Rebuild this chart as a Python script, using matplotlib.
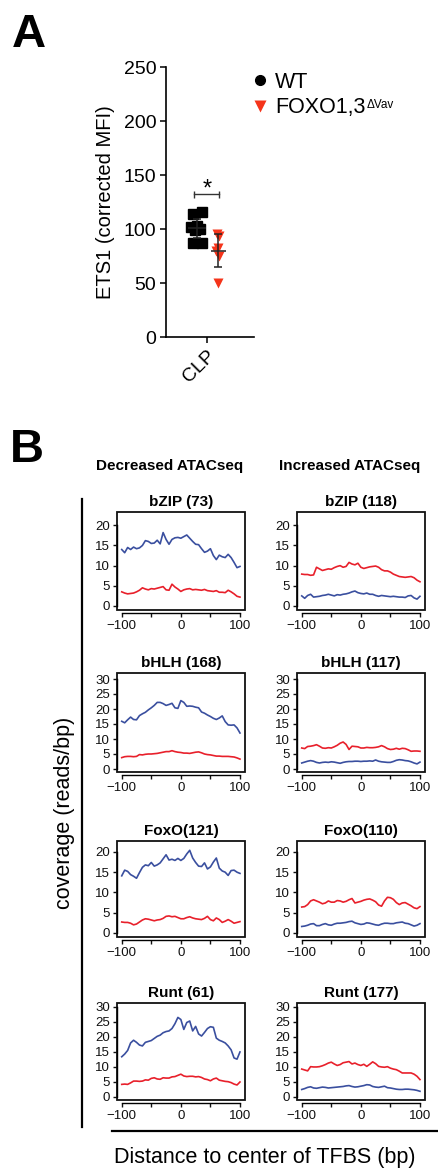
import numpy as np
import matplotlib
matplotlib.use('Agg')
import matplotlib.pyplot as plt
from matplotlib.lines import Line2D
from matplotlib.patches import Rectangle

plt.rcParams['font.family'] = ['Liberation Sans', 'DejaVu Sans']

W, H = 439, 1169

# %% Panel A data (ETS1 corrected MFI, CLP)
wt_vals = [113.6, 115.4, 102.0, 103.0, 100.0, 99.0, 86.8, 87.3]
wt_x = [-0.35, -0.12, -0.40, -0.25, -0.17, -0.29, -0.33, -0.13]
foxo_vals = [95.0, 93.5, 82.0, 80.0, 75.0, 49.7]
foxo_x = [0.24, 0.30, 0.28, 0.22, 0.29, 0.26]
wt_mean, wt_err = 100.6, 9.0
foxo_mean, foxo_err = 80.0, 15.5
sig_y = 132

# %% Panel B data (coverage, reads/bp) every 5 bp
bp = np.arange(-100, 101, 5)

bzip_dec_blue = [14.0, 13.2, 14.5, 14.0, 14.6, 14.2, 14.4, 15.0, 16.2, 16.0, 15.5, 15.6, 16.3, 15.4,
                 18.2, 16.5, 15.3, 16.5, 16.9, 17.0, 16.8, 17.2, 17.6, 16.8, 16.0, 15.3, 15.2, 14.2,
                 13.3, 13.6, 14.2, 12.5, 11.5, 12.6, 12.2, 12.0, 12.8, 12.0, 10.8, 9.5, 9.8]
bzip_dec_red = [3.5, 3.2, 3.0, 3.1, 3.2, 3.5, 3.9, 4.5, 4.2, 4.0, 4.3, 4.2, 4.4, 4.6,
                4.8, 4.0, 3.9, 5.4, 4.7, 4.2, 3.6, 4.0, 4.2, 4.3, 4.0, 4.1, 4.0, 3.9,
                4.1, 3.8, 3.7, 3.6, 3.8, 3.4, 3.4, 3.3, 3.9, 3.5, 3.0, 2.4, 2.2]
bzip_inc_red = [7.9, 7.8, 7.8, 7.6, 7.7, 9.6, 9.2, 8.8, 9.0, 9.2, 9.1, 9.5, 9.8, 10.0,
                9.6, 9.8, 10.8, 10.4, 10.2, 10.6, 9.6, 9.3, 9.5, 9.7, 9.8, 9.9, 9.6, 9.0,
                8.7, 8.7, 8.4, 7.9, 7.6, 7.3, 7.2, 7.1, 7.2, 7.3, 7.0, 6.4, 6.0]
bzip_inc_blue = [2.5, 1.9, 2.6, 2.9, 2.2, 2.3, 2.4, 2.6, 2.7, 2.9, 2.7, 2.5, 2.8, 2.7,
                 2.9, 3.0, 3.2, 3.5, 3.7, 3.3, 3.1, 3.0, 3.2, 2.9, 2.9, 2.6, 2.4, 2.6,
                 2.5, 2.4, 2.3, 2.4, 2.3, 2.2, 2.2, 2.1, 2.5, 2.6, 2.0, 1.7, 2.4]

bhlh_dec_blue = [15.9, 15.4, 16.4, 17.3, 16.5, 16.4, 17.8, 18.4, 18.9, 19.7, 20.4, 21.2, 22.2, 22.2,
                 21.8, 21.2, 21.5, 21.9, 20.4, 20.2, 22.8, 22.2, 20.9, 21.0, 20.9, 20.6, 20.4, 19.0,
                 18.6, 18.0, 17.5, 16.9, 16.5, 17.0, 17.7, 15.8, 14.7, 14.6, 14.7, 13.7, 12.0]
bhlh_dec_red = [3.8, 4.1, 4.2, 4.2, 4.1, 4.2, 4.8, 4.7, 4.9, 5.0, 5.0, 5.1, 5.2, 5.4,
                5.6, 5.8, 5.8, 6.1, 5.8, 5.6, 5.5, 5.3, 5.3, 5.2, 5.4, 5.6, 5.7, 5.4,
                5.0, 4.8, 4.7, 4.5, 4.3, 4.3, 4.2, 4.2, 4.2, 4.1, 4.0, 3.7, 3.3]
bhlh_inc_red = [7.0, 6.8, 7.5, 7.6, 7.8, 8.1, 7.6, 7.0, 6.9, 7.1, 7.0, 7.4, 7.9, 8.6,
                9.0, 8.2, 6.5, 7.6, 7.5, 7.4, 7.0, 7.0, 7.2, 7.1, 7.1, 7.2, 7.4, 7.8,
                7.4, 6.8, 6.5, 6.6, 6.9, 6.6, 6.9, 6.8, 6.4, 5.9, 6.0, 6.0, 5.9]
bhlh_inc_blue = [2.0, 2.3, 2.6, 2.8, 2.6, 2.2, 2.0, 2.2, 2.3, 2.2, 2.4, 2.3, 2.1, 1.9,
                 2.2, 2.4, 2.5, 2.5, 2.6, 2.6, 2.5, 2.6, 2.6, 2.7, 2.6, 3.0, 2.6, 2.4,
                 2.3, 2.2, 2.2, 2.5, 2.9, 3.1, 3.0, 2.8, 2.7, 2.4, 2.0, 1.7, 2.3]

foxo_dec_blue = [14.1, 15.5, 15.2, 14.4, 14.0, 13.5, 14.9, 16.2, 16.8, 16.6, 17.4, 16.5, 16.8, 17.3,
                 18.3, 19.3, 18.0, 18.2, 17.9, 18.4, 17.9, 18.4, 19.5, 20.4, 18.5, 17.4, 16.5, 16.4,
                 17.3, 15.8, 16.3, 17.5, 18.5, 16.0, 15.3, 15.0, 14.2, 15.4, 15.5, 15.0, 14.7]
foxo_dec_red = [2.7, 2.6, 2.6, 2.4, 2.0, 2.2, 2.7, 3.2, 3.5, 3.4, 3.2, 3.0, 3.2, 3.3,
                3.6, 4.1, 4.2, 4.0, 4.1, 3.8, 3.5, 3.5, 3.8, 4.0, 3.7, 3.5, 3.4, 3.3,
                3.6, 4.1, 3.3, 3.0, 3.7, 3.3, 2.6, 2.9, 3.3, 2.9, 2.4, 2.6, 2.8]
foxo_inc_red = [6.4, 6.5, 7.0, 7.9, 8.2, 7.9, 7.6, 7.2, 7.4, 7.9, 7.6, 7.6, 8.0, 7.9,
                7.6, 7.8, 8.2, 8.5, 7.4, 7.6, 7.8, 8.1, 8.3, 8.4, 8.1, 7.7, 6.9, 6.6,
                7.9, 8.8, 8.7, 8.3, 7.5, 7.0, 7.4, 7.5, 7.1, 6.7, 6.2, 6.0, 6.5]
foxo_inc_blue = [1.6, 1.7, 1.9, 2.2, 2.3, 1.8, 1.8, 2.1, 2.3, 2.0, 1.9, 2.2, 2.4, 2.4,
                 2.5, 2.6, 2.8, 2.9, 2.5, 2.3, 2.1, 2.2, 2.5, 2.4, 2.2, 2.0, 1.9, 2.2,
                 2.4, 2.4, 2.3, 2.3, 2.5, 2.6, 2.7, 2.4, 2.3, 2.0, 1.7, 1.9, 2.3]

runt_dec_blue = [13.4, 14.3, 15.5, 18.0, 18.9, 18.2, 17.3, 17.0, 18.2, 18.5, 18.8, 19.5, 20.2, 20.6,
                 21.4, 21.8, 22.0, 22.8, 24.4, 26.5, 25.8, 22.5, 24.8, 25.3, 22.0, 23.5, 21.0, 20.3,
                 21.5, 22.8, 23.4, 23.2, 19.6, 18.9, 18.5, 18.0, 17.0, 15.7, 13.0, 12.6, 15.0]
runt_dec_red = [4.2, 4.3, 4.2, 4.7, 5.3, 5.3, 5.2, 5.3, 5.7, 5.6, 6.2, 6.4, 6.0, 5.9,
                6.4, 6.3, 6.3, 6.7, 6.8, 7.2, 7.6, 7.0, 6.8, 6.9, 6.9, 6.7, 6.8, 6.5,
                6.0, 5.8, 5.4, 6.0, 6.3, 5.6, 5.4, 5.2, 5.1, 4.8, 4.3, 4.0, 5.0]
runt_inc_red = [9.3, 9.0, 8.7, 10.1, 10.0, 10.0, 10.1, 10.4, 10.8, 11.3, 11.6, 11.0, 10.5, 10.8,
                11.4, 11.6, 11.8, 11.0, 11.3, 10.8, 10.5, 10.9, 10.2, 10.9, 11.7, 11.1, 10.2, 10.0,
                9.9, 10.1, 9.6, 9.3, 9.1, 8.6, 8.0, 8.0, 8.0, 8.0, 7.6, 6.9, 5.8]
runt_inc_blue = [2.5, 2.8, 3.2, 3.4, 3.0, 2.9, 3.1, 3.3, 3.2, 3.0, 3.1, 3.2, 3.3, 3.4,
                 3.5, 3.7, 3.8, 3.5, 3.3, 3.4, 3.6, 3.8, 4.1, 4.0, 3.5, 3.3, 3.2, 3.4,
                 3.6, 3.1, 3.0, 2.8, 2.6, 2.5, 2.5, 2.6, 2.6, 2.5, 2.4, 2.2, 1.9]

titles_dec = ['bZIP (73)', 'bHLH (168)', 'FoxO(121)', 'Runt (61)']
titles_inc = ['bZIP (118)', 'bHLH (117)', 'FoxO(110)', 'Runt (177)']
blue_dec = [bzip_dec_blue, bhlh_dec_blue, foxo_dec_blue, runt_dec_blue]
red_dec = [bzip_dec_red, bhlh_dec_red, foxo_dec_red, runt_dec_red]
blue_inc = [bzip_inc_blue, bhlh_inc_blue, foxo_inc_blue, runt_inc_blue]
red_inc = [bzip_inc_red, bhlh_inc_red, foxo_inc_red, runt_inc_red]
ytop_ticks = [20, 30, 20, 30]
ylims = [(-1.0, 23.3), (-1.0, 32.0), (-1.0, 22.7), (-1.0, 31.3)]

BLUE = '#3a4f9f'
RED = '#e8202b'
ORANGE_RED = '#f5341a'


def add_ax(x0, y0, x1, y1):
    return fig.add_axes([x0 / W, 1 - y1 / H, (x1 - x0) / W, (y1 - y0) / H])


fig = plt.figure(figsize=(W / 100, H / 100), dpi=100)

# %% Panel A
fig.text(12 / W, 1 - 47 / H, 'A', fontsize=34, fontweight='bold', va='baseline')

axA = add_ax(166, 67, 254, 337)
axA.set_xlim(-1.0, 1.15)
axA.set_ylim(0, 250)
for s in ['top', 'right']:
    axA.spines[s].set_visible(False)
for s in ['left', 'bottom']:
    axA.spines[s].set_linewidth(1.2)
axA.set_yticks(range(0, 251, 50))
axA.tick_params(labelsize=14, length=4, width=1.1, pad=3)
axA.set_xticks([0])
axA.set_xticklabels(['CLP'], rotation=45, ha='right', va='top', rotation_mode='anchor')
axA.set_ylabel('ETS1 (corrected MFI)', fontsize=14.5, labelpad=6.5)

axA.plot(wt_x, wt_vals, 's', color='black', ms=6.5, clip_on=False)
axA.plot(foxo_x, foxo_vals, 'v', color=ORANGE_RED, ms=7, mec='none', clip_on=False)
axA.hlines(wt_mean, -0.46, -0.02, color='#222222', lw=1.2)
axA.hlines(foxo_mean, 0.09, 0.46, color='#333333', lw=1.2)
axA.errorbar([-0.24], [wt_mean], yerr=[wt_err], color='#222222', lw=1.1, capsize=3, capthick=1.1)
axA.errorbar([0.28], [foxo_mean], yerr=[foxo_err], color='#222222', lw=1.1, capsize=3, capthick=1.1)

axA.plot([-0.325, 0.30], [sig_y, sig_y], color='#333333', lw=1.0)
axA.vlines([-0.325, 0.30], sig_y - 3, sig_y + 3, color='#333333', lw=1.0)
axA.text(0, sig_y + 5, '*', fontsize=17, ha='center', va='center')

leg_handles = [Line2D([], [], marker='o', color='black', ls='', ms=7),
               Line2D([], [], marker='v', color=ORANGE_RED, mec='none', ls='', ms=8)]
leg = axA.legend(leg_handles, ['WT', 'FOXO1,3'], loc='upper left',
                 bbox_to_anchor=(249 / W, 1 - 72 / H), bbox_transform=fig.transFigure,
                 frameon=False, fontsize=15.5, borderaxespad=0, borderpad=0,
                 handlelength=1.0, handletextpad=0.2, labelspacing=0.2)

# %% Panel B
fig.text(10 / W, 1 - 462 / H, 'B', fontsize=34, fontweight='bold', va='baseline')
fig.text(170 / W, 1 - 466 / H, 'Decreased ATACseq', fontsize=11, fontweight='bold',
         ha='center', va='center')
fig.text(350 / W, 1 - 466 / H, 'Increased ATACseq', fontsize=11, fontweight='bold',
         ha='center', va='center')

row_tops = [512, 673, 841, 1003]
row_bots = [610, 772, 937, 1100]
col_lefts = [117, 297]
col_w = 128

for r in range(4):
    for c in range(2):
        ax = add_ax(col_lefts[c], row_tops[r], col_lefts[c] + col_w, row_bots[r])
        if c == 0:
            b, rd, t = blue_dec[r], red_dec[r], titles_dec[r]
        else:
            b, rd, t = blue_inc[r], red_inc[r], titles_inc[r]
        ax.plot(bp, rd, color=RED, lw=1.2)
        ax.plot(bp, b, color=BLUE, lw=1.2)
        ax.set_xlim(-108, 108.5)
        ax.set_ylim(*ylims[r])
        ax.set_xticks([-100, -50, 0, 50, 100])
        ax.set_xticklabels(['\u2212100', '', '0', '', '100'])
        ax.set_yticks(range(0, ytop_ticks[r] + 1, 5))
        ax.tick_params(labelsize=9.5, length=3, width=1.0, pad=2, colors='#111111')
        for s in ['top', 'right']:
            ax.spines[s].set_visible(False)
        ax.spines['left'].set_bounds(0, ytop_ticks[r])
        ax.spines['bottom'].set_bounds(-100, 100)
        ax.spines['bottom'].set_position(('outward', 2))
        for s in ['left', 'bottom']:
            ax.spines[s].set_linewidth(1.0)
        ax.add_patch(Rectangle((0, 0), 1, 1, transform=ax.transAxes, fill=False,
                               lw=1.3, ec='#111111', clip_on=False))
        ax.set_title(t, fontsize=11, fontweight='bold', pad=4)

fig.add_artist(Line2D([82 / W, 82 / W], [1 - 499 / H, 1 - 1127 / H], color='black', lw=1.6))
fig.add_artist(Line2D([112 / W, 1.0], [1 - 1131 / H, 1 - 1131 / H], color='black', lw=1.6))
fig.text(65 / W, 1 - 813 / H, 'coverage (reads/bp)', fontsize=15.5, rotation=90,
         ha='center', va='center')
fig.text(265 / W, 1 - 1157 / H, 'Distance to center of TFBS (bp)', fontsize=15.5,
         ha='center', va='center')

# superscript on the legend label
fig.canvas.draw()
bb = leg.get_texts()[1].get_window_extent()
fig.text((bb.x1 + 1) / W, (bb.y1 - 2) / H, '\u0394Vav', fontsize=8.5, ha='left', va='top')

fig.savefig('out.png', dpi=100)
